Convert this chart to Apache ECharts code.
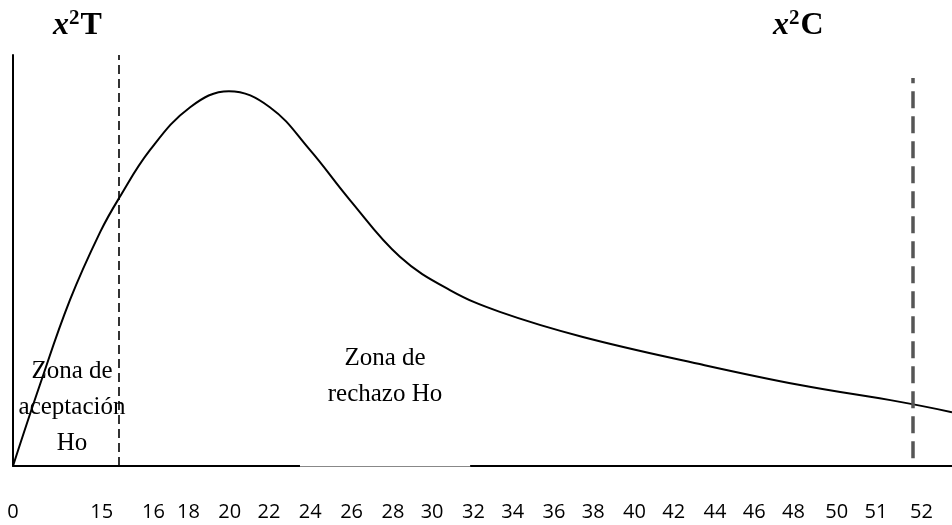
<!DOCTYPE html>
<html>
<head>
<meta charset="utf-8">
<script src="https://cdn.jsdelivr.net/npm/echarts@6/dist/echarts.min.js"></script>
<style>
  html, body { margin: 0; padding: 0; background: #fff; }
  #chart { width: 952px; height: 525px; }
</style>
</head>
<body>
<div id="chart"></div>
<script>
// etiquetas del eje x y su posición (en "casillas" del dibujo)
const tickLabels = ['0', '15', '16', '18', '20', '22', '24', '26', '28', '30', '32',
    '34', '36', '38', '40', '42', '44', '46', '48', '50', '51', '52'];
const tickSlots = [0, 2.15, 3.4, 4.25, 5.25, 6.2, 7.2, 8.2, 9.2, 10.15, 11.15,
    12.1, 13.1, 14.05, 15.05, 16.0, 17.0, 17.95, 18.9, 19.95, 20.9, 22.0];

// curva chi cuadrado
const curveX = [0, 0.65, 1.38, 2.11, 2.57, 3.32, 4.29, 5.23, 6.22, 7.19, 8.16,
    9.37, 10.58, 11.79, 13.8, 16.63, 19.06, 21.48, 22.74];
const curveY = [0, 19.7, 40.4, 56.9, 65.2, 76.9, 87.3, 91.2, 87.3, 76.9, 64.7,
    50.9, 42.8, 37.5, 31.4, 24.8, 19.7, 15.6, 13.1];

// valores críticos
const chiTabla = 2.57;     // x²T
const chiCalc = 21.79;     // x²C
const chiCalcTop = 94.4;
const chiCalcBottom = 1.9;

// tramo del eje que se ve borrado
const gapStart = 6.95;
const gapEnd = 11.07;

const xMax = 22.74;

const myChart = echarts.init(document.getElementById('chart'));

const serif = "'Liberation Serif', 'DejaVu Serif', serif";

function chiTitle(letter) {
    return {
        text: '{x|x}{s|2}{t|' + letter + '}',
        rich: {
            x: { fontFamily: serif, fontStyle: 'italic', fontWeight: 'bold', fontSize: 32, color: '#000' },
            s: { fontFamily: serif, fontWeight: 'bold', fontSize: 21, color: '#000', verticalAlign: 'top', padding: [0, 1, 14, 0] },
            t: { fontFamily: serif, fontWeight: 'bold', fontSize: 32, color: '#000' }
        }
    };
}

const option = {
    backgroundColor: '#ffffff',
    animation: false,
    grid: { left: 13, right: 0, top: 55, bottom: 59, containLabel: false },
    xAxis: {
        type: 'value',
        min: 0,
        max: xMax,
        axisLine: { show: true, onZero: false, lineStyle: { color: '#000', width: 2 } },
        axisTick: { show: false },
        splitLine: { show: false },
        axisLabel: {
            customValues: tickSlots,
            margin: 36,
            fontFamily: "'Open Sans', 'Noto Sans', sans-serif",
            fontSize: 20,
            color: '#000',
            formatter: v => {
                const i = tickSlots.indexOf(v);
                return i >= 0 ? tickLabels[i] : '';
            }
        }
    },
    yAxis: {
        type: 'value',
        min: 0,
        max: 100,
        axisLine: { show: true, lineStyle: { color: '#000', width: 2 } },
        axisTick: { show: false },
        axisLabel: { show: false },
        splitLine: { show: false }
    },
    graphic: [
        { type: 'text', x: 53, y: 8, style: chiTitle('T') },
        { type: 'text', x: 773, y: 8, style: chiTitle('C') },
        {
            type: 'text', x: 72, y: 353,
            style: {
                text: 'Zona de\naceptación\nHo',
                fontFamily: serif, fontSize: 25, lineHeight: 36, align: 'center', fill: '#000'
            }
        },
        {
            type: 'text', x: 385, y: 340,
            style: {
                text: 'Zona de\nrechazo Ho',
                fontFamily: serif, fontSize: 25, lineHeight: 36, align: 'center', fill: '#000'
            }
        }
    ],
    series: [
        {
            type: 'line',
            data: curveX.map((x, i) => [x, curveY[i]]),
            smooth: 0.4,
            showSymbol: false,
            silent: true,
            lineStyle: { color: '#000', width: 2 },
            markLine: {
                silent: true,
                symbol: 'none',
                label: { show: false },
                data: [
                    // x²T
                    [
                        { coord: [chiTabla, 0], lineStyle: { color: '#000', width: 1.6, type: [9, 5] } },
                        { coord: [chiTabla, 100] }
                    ],
                    // x²C
                    [
                        { coord: [chiCalc, chiCalcBottom], lineStyle: { color: '#555', width: 3.5, type: [17, 8] } },
                        { coord: [chiCalc, chiCalcTop] }
                    ],
                    // tramo borrado del eje
                    [
                        { coord: [gapStart, 0], lineStyle: { color: '#fff', width: 3, type: 'solid' } },
                        { coord: [gapEnd, 0] }
                    ],
                    [
                        { coord: [gapStart, 0], lineStyle: { color: '#888', width: 1, type: 'solid' } },
                        { coord: [gapEnd, 0] }
                    ]
                ]
            }
        }
    ]
};

myChart.setOption(option);
</script>
</body>
</html>
